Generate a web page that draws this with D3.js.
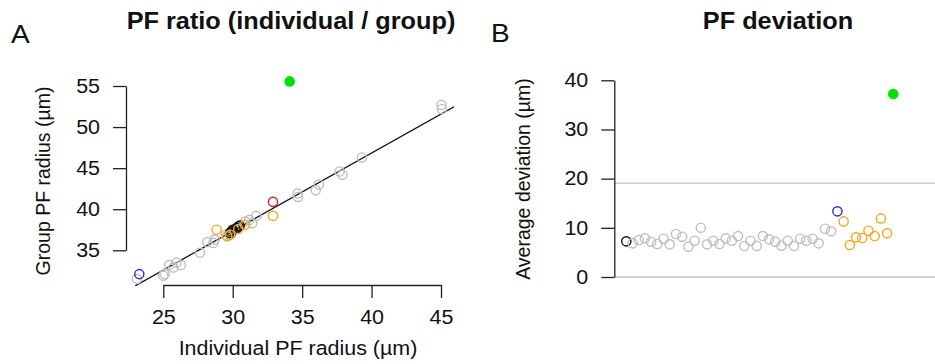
<!DOCTYPE html>
<html>
<head>
<meta charset="utf-8">
<script src="https://cdn.jsdelivr.net/npm/d3@7"></script>
<style>
  body { margin: 0; background: #fff; }
  svg { display: block; font-family: "Liberation Sans", Arial, sans-serif; }
</style>
</head>
<body>
<svg width="935" height="364"></svg>
<script>
// Panel A: individual vs group PF radius (µm)
const grayA = [
  [23.1, 31.5], [25.0, 31.9], [25.1, 32.1], [25.43, 33.2], [25.72, 32.9], [25.96, 33.5],
  [26.27, 33.2], [27.64, 34.7], [28.17, 36.0], [28.6, 35.9], [28.7, 36.3], [29.5, 36.9],
  [29.9, 37.0], [30.9, 38.5], [31.2, 38.7], [31.4, 38.3], [31.7, 39.2], [34.67, 41.9],
  [34.7, 41.5], [35.98, 42.3], [36.2, 43.0], [37.7, 44.6], [37.9, 44.2], [39.3, 46.3],
  [45.03, 52.7], [45.07, 52.2]
];
const blackA = [[29.8, 37.1], [29.9, 37.3], [30.0, 37.5], [30.2, 37.6], [30.3, 37.7], [30.5, 38.0], [30.4, 37.9]];
const orangeA = [[28.84, 37.5], [29.8, 36.9], [29.6, 36.7], [30.4, 37.6], [30.88, 38.1], [32.9, 39.2]];
const redA = [[32.9, 40.9]];
const blueA = [[23.27, 32.1]];
const greenA = [[34.1, 55.56]];
const fitA = { intercept: 8.84, slope: 0.95 };
const xTicksA = [25, 30, 35, 40, 45];
const yTicksA = [35, 40, 45, 50, 55];

// Panel B: average deviation per cell, in order
const blackB = [7.25];
const grayB = [6.84, 7.52, 7.86, 7.18, 6.71, 7.79, 6.64, 8.74, 8.20, 6.17, 7.38, 10.03, 6.64, 7.38, 6.71,
  7.86, 7.38, 8.33, 6.30, 7.38, 6.30, 8.33, 7.66, 7.18, 6.37, 7.38, 6.30, 7.79, 7.38, 7.79, 6.84, 9.82, 9.28];
const blueB = [13.35];
const orangeB = [11.31, 6.50, 8.06, 7.93, 9.42, 8.33, 11.92, 8.88];
const greenB = [37.2];
const hlinesB = [0, 19.1];
const yTicksB = [0, 10, 20, 30, 40];

const col = { gray: "#bebebe", black: "#111", orange: "#f5a623", red: "#d0202e", blue: "#2a2ad8", green: "#00e000" };
const svg = d3.select("svg");
const r = 4.6;
const sx = 1.1; // the reference text is a little wider than tall

// horizontal text, stretched a bit sideways like the original
function hText(x, y, str, size, anchor, bold) {
  return svg.append("text")
    .attr("transform", `translate(${x},${y}) scale(${sx},1)`)
    .attr("text-anchor", anchor || "start")
    .attr("font-size", size)
    .attr("font-weight", bold ? "bold" : null)
    .attr("fill", "#111")
    .text(str);
}

function styleTicks(g) {
  g.selectAll("text").each(function () {
    const t = d3.select(this);
    const x = +t.attr("x") || 0;
    t.attr("x", x / sx).attr("transform", `scale(${sx},1)`)
      .attr("font-size", 19.5).attr("fill", "#111");
  });
  g.selectAll(".domain, .tick line").attr("stroke", "#222").attr("stroke-width", 1.3);
}

// ---------- Panel A ----------
const xA = d3.scaleLinear().domain([25, 45]).range([163.3, 441]);
const yA = d3.scaleLinear().domain([35, 55]).range([250.3, 86]);

svg.append("defs").append("clipPath").attr("id", "clipA")
  .append("rect").attr("x", 135).attr("y", 70).attr("width", 319).attr("height", 216);

const gA = svg.append("g");

gA.append("g").attr("transform", "translate(0,285)")
  .call(d3.axisBottom(xA).tickValues(xTicksA).tickSize(13).tickPadding(12).tickSizeOuter(0))
  .call(styleTicks);

gA.append("g").attr("transform", "translate(126,0)")
  .call(d3.axisLeft(yA).tickValues(yTicksA).tickSize(13).tickPadding(13).tickSizeOuter(0))
  .call(styleTicks);

const x0 = xA.invert(135), x1 = xA.invert(454);
gA.append("line")
  .attr("clip-path", "url(#clipA)")
  .attr("x1", xA(x0)).attr("y1", yA(fitA.intercept + fitA.slope * x0))
  .attr("x2", xA(x1)).attr("y2", yA(fitA.intercept + fitA.slope * x1))
  .attr("stroke", "#111").attr("stroke-width", 1.3);

function dotsA(data, color, filled) {
  gA.append("g").selectAll("circle").data(data).enter().append("circle")
    .attr("cx", d => xA(d[0])).attr("cy", d => yA(d[1])).attr("r", r)
    .attr("fill", filled ? color : "none")
    .attr("stroke", color).attr("stroke-width", 1.4);
}
dotsA(grayA, col.gray);
dotsA(blackA, col.black);
dotsA(orangeA, col.orange);
dotsA(redA, col.red);
dotsA(blueA, col.blue);
dotsA(greenA, col.green, true);

hText(11, 43, "A", 25.5);
hText(291, 29, "PF ratio (individual / group)", 23, "middle", true);
hText(298, 355, "Individual PF radius (µm)", 19.5, "middle");
svg.append("text").attr("transform", "translate(49.5,181) rotate(-90)").attr("text-anchor", "middle")
  .attr("font-size", 19.5).attr("fill", "#111").text("Group PF radius (µm)");

// ---------- Panel B ----------
const allB = [
  ...blackB.map(v => ({ v, c: col.black })),
  ...grayB.map(v => ({ v, c: col.gray })),
  ...blueB.map(v => ({ v, c: col.blue })),
  ...orangeB.map(v => ({ v, c: col.orange })),
  ...greenB.map(v => ({ v, c: col.green, f: true }))
];
allB.forEach((d, i) => d.i = i + 1);

const xB = d3.scaleLinear().domain([1, allB.length]).range([626.3, 893.3]);
const yB = d3.scaleLinear().domain([0, 40]).range([277, 80.3]);

const gB = svg.append("g");
gB.selectAll(".hl").data(hlinesB).enter().append("line")
  .attr("x1", 614).attr("x2", 935)
  .attr("y1", d => yB(d)).attr("y2", d => yB(d))
  .attr("stroke", "#c4c4c4").attr("stroke-width", 1.3);

gB.append("g").attr("transform", "translate(614.3,0)")
  .call(d3.axisLeft(yB).tickValues(yTicksB).tickSize(13).tickPadding(13).tickSizeOuter(0))
  .call(styleTicks);

gB.append("g").selectAll("circle").data(allB).enter().append("circle")
  .attr("cx", d => xB(d.i)).attr("cy", d => yB(d.v)).attr("r", r)
  .attr("fill", d => d.f ? d.c : "none")
  .attr("stroke", d => d.c).attr("stroke-width", 1.4);

hText(491, 42, "B", 25.5);
hText(778, 29, "PF deviation", 23, "middle", true);
svg.append("text").attr("transform", "translate(529.5,179) rotate(-90)").attr("text-anchor", "middle")
  .attr("font-size", 19.5).attr("fill", "#111").text("Average deviation (µm)");
</script>
</body>
</html>
